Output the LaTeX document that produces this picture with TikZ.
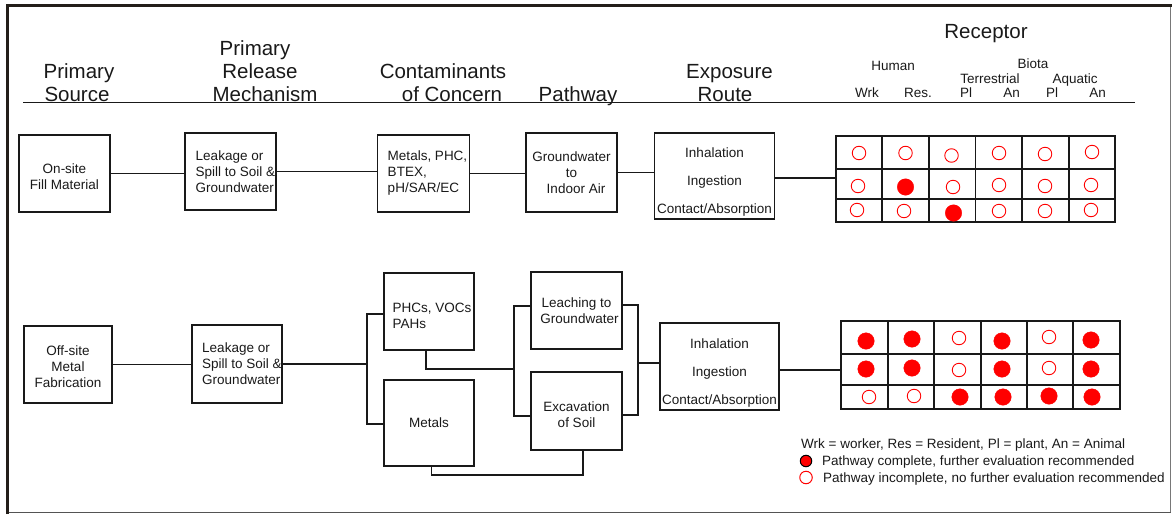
\documentclass[tikz,border=0pt]{standalone}
\usepackage{fontspec}
\setmainfont{Liberation Sans}
\definecolor{frm}{RGB}{35,30,25}
\definecolor{frg}{RGB}{120,120,120}
\definecolor{ink}{RGB}{25,25,25}
\newcommand\padt[1]{\rule{0pt}{#1}}
\begin{document}
\begin{tikzpicture}[x=1pt,y=-1pt,
  box/.style={draw=ink, line width=1.3pt, inner sep=0pt, text=ink, font=\fontsize{13.5}{16}\selectfont},
  expbox/.style={box, font=\fontsize{13.5}{28}\selectfont, align=center},
  hd/.style={font=\fontsize{20.5}{23}\selectfont, anchor=base, inner sep=0pt, text=ink},
  sh/.style={font=\fontsize{13.5}{15}\selectfont, anchor=base, inner sep=0pt, text=ink},
  lg/.style={font=\fontsize{13.5}{15}\selectfont, anchor=base west, inner sep=0pt, text=ink},
  wire/.style={draw=ink, line width=1.2pt},
  grd/.style={draw=ink, line width=1.3pt},
  opn/.style={circle, draw=red, line width=0.9pt, fill=white, minimum size=13.5pt, inner sep=0pt},
  ful/.style={circle, fill=red, draw=red, line width=0.4pt, minimum size=16.5pt, inner sep=0pt},
]
\useasboundingbox (0,0) rectangle (1172,514);
% frame
\draw[frg, line width=1.5pt] (1170.5,6) -- (1170.5,512.5);
\draw[frg!70!black, line width=1.8pt] (7.5,512.5) -- (1170.5,512.5);
\draw[frm, line width=3pt] (7.5,514) -- (7.5,5.7) -- (1172,5.7);

% headers
\node[hd] (h1a) at (79,78) {Primary};
\node[hd] (h1b) at (77,101) {Source};
\node[hd] (h2a) at (255,55) {Primary};
\node[hd] (h2b) at (260,78) {Release};
\node[hd] (h2c) at (265,101) {Mechanism};
\node[hd] (h3a) at (443,78) {Contaminants};
\node[hd] (h3b) at (452,101) {of Concern};
\node[hd] (h4) at (578,101) {Pathway};
\node[hd] (h5a) at (729.5,78) {Exposure};
\node[hd] (h5b) at (725,101) {Route};
\node[hd] (h6) at (986,38) {Receptor};
\node[sh] (s1) at (893,70) {Human};
\node[sh] (s2) at (1033,68) {Biota};
\node[sh] (s3) at (990,83) {Terrestrial};
\node[sh] (s4) at (1075,83) {Aquatic};
\node[sh] (c1) at (867,97) {Wrk};
\node[sh] (c2) at (918,97) {Res.};
\node[sh] (c3) at (966,97) {Pl};
\node[sh] (c4) at (1011.5,97) {An};
\node[sh] (c5) at (1052,97) {Pl};
\node[sh] (c6) at (1097.5,97) {An};
\draw[wire] (23,102.5) -- (1135,102.5);

% row 1 boxes
\node[box, minimum width=91pt, minimum height=77pt, align=center] (src1) at (64.5,173.5) {\padt{15.8pt}On-site\\Fill Material};
\node[box, minimum width=91pt, minimum height=77pt, align=left] (rel1) at (230.5,171.5) {\hspace*{10pt}Leakage or\\\hspace*{10pt}Spill to Soil \&\\\hspace*{10pt}Groundwater};
\node[box, minimum width=92pt, minimum height=77pt, align=left] (coc1) at (423.5,173.5) {\hspace*{8pt}Metals, PHC,\\\hspace*{8pt}BTEX,\\\hspace*{8pt}pH/SAR/EC};
\node[box, minimum width=91pt, minimum height=79pt, align=center] (pw1) at (571.5,172.5) {Groundwater\\to\\\hspace*{9pt}Indoor Air};
\node[expbox, minimum width=120pt, minimum height=86pt] (exp1) at (714.5,176) {\padt{20.8pt}Inhalation\\Ingestion\\Contact/Absorption};
\node[grd, minimum width=279pt, minimum height=86pt, inner sep=0pt] (g1) at (975.5,179) {};
\foreach \x in {882,929,975.5,1022,1069} \draw[grd] (\x,136) -- (\x,222);
\foreach \y in {169,199} \draw[grd] (836,\y) -- (1115,\y);

\draw[wire] (src1.east) -- (src1.east -| rel1.west);
\draw[wire] (rel1.east) -- (rel1.east -| coc1.west);
\draw[wire] (coc1.east) -- (coc1.east -| pw1.west);
\draw[wire] (pw1.east) -- (pw1.east -| exp1.west);
\draw[wire] ([yshift=-2pt]exp1.east) -- ([yshift=-2pt]exp1.east -| g1.west);

\foreach \x/\y/\t [count=\i] in {859/153/opn, 905.5/153/opn, 951.5/155.5/opn, 999/153/opn, 1045/154/opn, 1092/152/opn,
  858/186/opn, 905.5/187/ful, 953/187/opn, 999/185/opn, 1045/186/opn, 1091/185/opn,
  857/210/opn, 904/211/opn, 953.5/213/ful, 999/211/opn, 1045/211/opn, 1091/210/opn}
  \node[\t] (pa\i) at (\x,\y) {};

% row 2 boxes
\node[box, minimum width=88pt, minimum height=77pt, align=center] (src2) at (68,364.5) {\padt{14.8pt}Off-site\\Metal\\Fabrication};
\node[box, minimum width=90pt, minimum height=78pt, align=left] (rel2) at (237,364) {\hspace*{10pt}Leakage or\\\hspace*{10pt}Spill to Soil \&\\\hspace*{10pt}Groundwater};
\node[box, minimum width=90pt, minimum height=77pt, align=left] (phc) at (429,311.5) {\padt{18.8pt}\hspace*{6pt}PHCs, VOCs\\\hspace*{6pt}PAHs};
\node[box, minimum width=90pt, minimum height=86pt, align=center] (met) at (429,423) {Metals};
\node[box, minimum width=91pt, minimum height=77pt, align=center] (lea) at (576.5,310.5) {Leaching to\\\hspace*{6pt}Groundwater};
\node[box, minimum width=91pt, minimum height=78pt, align=center] (exc) at (576.5,411) {\padt{17.8pt}Excavation\\of Soil};
\node[expbox, minimum width=119pt, minimum height=87pt] (exp2) at (719.5,366.5) {\padt{21.8pt}Inhalation\\Ingestion\\Contact/Absorption};
\node[grd, minimum width=279pt, minimum height=88pt, inner sep=0pt] (g2) at (980.5,365) {};
\foreach \x in {888,934,981,1027,1073} \draw[grd] (\x,321) -- (\x,409);
\foreach \y in {354,385} \draw[grd] (841,\y) -- (1120,\y);

\coordinate (j1t) at (367,314);
\coordinate (j1b) at (367,424);
\coordinate (j2) at (514,369);
\coordinate (j2t) at (514,306);
\coordinate (j2b) at (514,416);
\coordinate (j3t) at (638,305);
\coordinate (j3b) at (638,415);
\coordinate (j3m) at (638,363);
\coordinate (j4) at (583,475);

\draw[wire] (src2.east) -- (src2.east -| rel2.west);
\draw[wire] (rel2.east) -- (rel2.east -| j1t);
\draw[wire] (phc.west |- j1t) -- (j1t) -- (j1b) -- (met.west |- j1b);
\draw[wire] ([xshift=-3pt]phc.south) |- (j2);
\draw[wire] (lea.west |- j2t) -- (j2t) -- (j2b) -- (exc.west |- j2b);
\draw[wire] (lea.east |- j3t) -- (j3t) -- (j3b) -- (exc.east |- j3b);
\draw[wire] (j3m) -- (j3m -| exp2.west);
\draw[wire] ([xshift=2.5pt]met.south) |- (j4) -- (j4 |- exc.south);
\draw[wire] ([yshift=-3.5pt]exp2.east) -- ([yshift=-3.5pt]exp2.east -| g2.west);

\foreach \x/\y/\t [count=\i] in {866/341/ful, 912/339/ful, 959/338/opn, 1002/341/ful, 1049/337/opn, 1091/340/ful,
  866/369/ful, 912/368/ful, 959/370/opn, 1002/369/ful, 1049/368/opn, 1091/369/ful,
  869/397/opn, 914/396/opn, 960/397/ful, 1003/397/ful, 1049/396/ful, 1092/397/ful}
  \node[\t] (pb\i) at (\x,\y) {};

% legend
\node[lg] (lg1) at (801,448) {Wrk = worker, Res = Resident, Pl = plant, An = Animal};
\node[circle, fill=red, draw=black, line width=1pt, minimum size=11.5pt, inner sep=0pt] (lgf) at (806,461) {};
\node[lg] (lg2) at (822,465) {Pathway complete, further evaluation recommended};
\node[circle, draw=red, fill=white, line width=1pt, minimum size=12.5pt, inner sep=0pt] (lgo) at (806,477.5) {};
\node[lg] (lg3) at (823,482) {Pathway incomplete, no further evaluation recommended};
\end{tikzpicture}
\end{document}
